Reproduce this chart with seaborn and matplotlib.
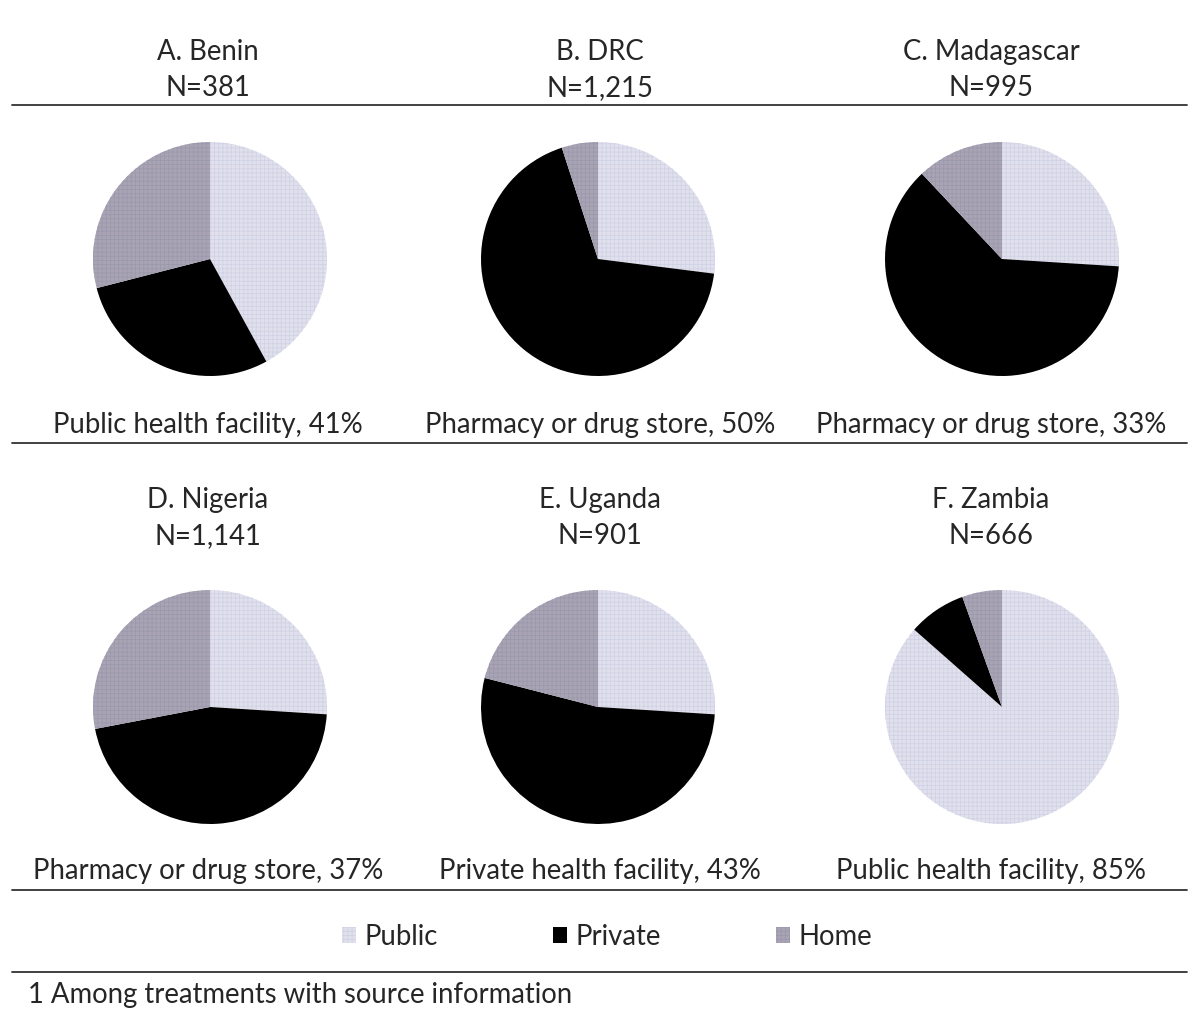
# -*- coding: utf-8 -*-
"""Source of antimalarial treatment by country (six pie panels)."""

import matplotlib
matplotlib.use("Agg")
import matplotlib.pyplot as plt
from matplotlib.lines import Line2D
from matplotlib.patches import Patch
import seaborn as sns

# ---------------------------------------------------------------------------
# Data
# ---------------------------------------------------------------------------
countries = ["A. Benin", "B. DRC", "C. Madagascar",
             "D. Nigeria", "E. Uganda", "F. Zambia"]
sample_sizes = ["N=381", "N=1,215", "N=995", "N=1,141", "N=901", "N=666"]
sectors = ["Public", "Private", "Home"]
public = [42, 27, 26, 26, 26, 86.5]
private = [29, 68, 62, 46, 53, 8]
home = [29, 5, 12, 28, 21, 5.5]
top_source = ["Public health facility, 41%", "Pharmacy or drug store, 50%",
              "Pharmacy or drug store, 33%", "Pharmacy or drug store, 37%",
              "Private health facility, 43%", "Public health facility, 85%"]
footnote = "1 Among treatments with source information"

# ---------------------------------------------------------------------------
# Style
# ---------------------------------------------------------------------------
sns.set_theme(style="white")
plt.rcParams["font.family"] = ["Lato", "DejaVu Sans"]
plt.rcParams["hatch.linewidth"] = 0.6

W, H = 1200, 1033
colors = {"Public": "#e2e0ec", "Private": "#000000", "Home": "#aaa3b3"}
hatch_colors = {"Public": "#cfd3e6", "Private": "#000000", "Home": "#9a9aae"}
hatches = {"Public": "++++", "Private": None, "Home": "++++"}
text_color = "#262626"
FS = 19.8


def fx(px):
    return px / W


def fy(py):
    return 1 - py / H


fig = plt.figure(figsize=(W / 100, H / 100), dpi=100)

# pixel layout of the panels
pie_x = [210, 598, 1002]
pie_y = [259, 707]
radius = 117
text_x = [208, 600, 991]
name_y = [52, 500]
n_y = [88, 536]
caption_y = [425, 871]

for i, country in enumerate(countries):
    row, col = divmod(i, 3)
    cx, cy = pie_x[col], pie_y[row]
    ax = fig.add_axes([fx(cx - radius), fy(cy + radius),
                       2 * radius / W, 2 * radius / H])
    values = [public[i], private[i], home[i]]
    wedges, _ = ax.pie(values, startangle=90, counterclock=False,
                       colors=[colors[s] for s in sectors],
                       wedgeprops={"linewidth": 0})
    for w, s in zip(wedges, sectors):
        if hatches[s]:
            w.set_hatch(hatches[s])
            w.set_edgecolor(hatch_colors[s])
            w.set_linewidth(0)
    ax.set_xlim(-1.0, 1.0)
    ax.set_ylim(-1.0, 1.0)
    ax.set_aspect("equal")
    ax.axis("off")

    tx = fx(text_x[col])
    fig.text(tx, fy(name_y[row]), country, ha="center", va="center",
             fontsize=FS, color=text_color)
    fig.text(tx, fy(n_y[row]), sample_sizes[i], ha="center", va="center",
             fontsize=FS, color=text_color)
    fig.text(tx, fy(caption_y[row]), top_source[i], ha="center", va="center",
             fontsize=FS, color=text_color)

# horizontal rules
for py in [105, 443, 890, 972]:
    fig.add_artist(Line2D([fx(12), fx(1187)], [fy(py), fy(py)],
                          color="#333333", linewidth=1.3))

# legend
handles = [Patch(facecolor=colors[s], edgecolor=hatch_colors[s],
                 hatch=hatches[s], linewidth=0) for s in sectors]
fig.legend(handles, sectors, loc="center", bbox_to_anchor=(fx(607), fy(937)),
           ncol=3, frameon=False, fontsize=FS, handlelength=0.5,
           handleheight=0.5, handletextpad=0.3, columnspacing=4.2,
           labelcolor=text_color)

fig.text(fx(28), fy(995), footnote, ha="left", va="center",
         fontsize=FS, color=text_color)

fig.savefig("out.png", dpi=100, facecolor="white")
plt.close(fig)
